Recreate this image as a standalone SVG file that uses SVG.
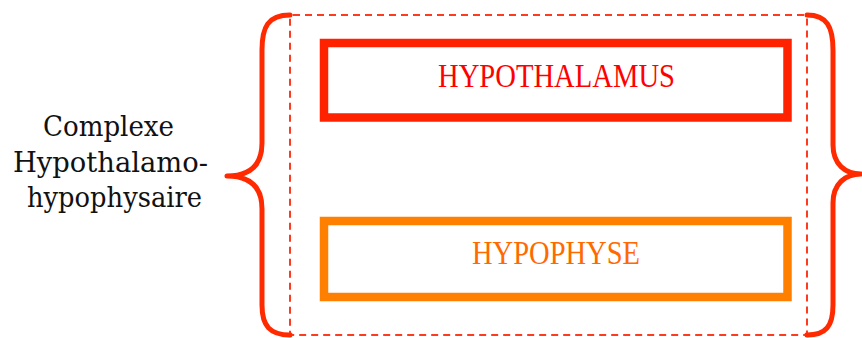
<svg xmlns="http://www.w3.org/2000/svg" width="862" height="338" viewBox="0 0 862 338">
<style>
.brace{fill:none;stroke:#ff2a00;stroke-width:5;stroke-linecap:round;stroke-linejoin:round}
.dash{fill:none;stroke:#ff3b1f;stroke-width:2;stroke-dasharray:7 5}
.box{fill:#ffffff;stroke-width:8.5}
.lbl{font-family:"DejaVu Serif","Liberation Serif",serif;font-size:28px;fill:#111111}
.btxt{font-family:"Liberation Serif","DejaVu Serif",serif;font-size:33px}
</style>
<rect width="862" height="338" fill="#ffffff"/>
<g id="label">
<text class="lbl" x="43" y="136" textLength="131" lengthAdjust="spacingAndGlyphs">Complexe</text>
<text class="lbl" x="13" y="172" textLength="195" lengthAdjust="spacingAndGlyphs">Hypothalamo-</text>
<text class="lbl" x="27" y="207" textLength="175" lengthAdjust="spacingAndGlyphs">hypophysaire</text>
</g>
<g id="frame">
<rect class="dash" x="290" y="15" width="517" height="320" rx="3"/>
<path class="brace" d="M290,15 C268,15 262,27 262,50 L262,143 C262,165 250,176 227,176 C250,176 262,187 262,209 L262,305 C262,326 270,335 290,335"/>
<path class="brace" d="M807,15 C827,15 833,27 833,50 L833,145 C833,164 845,174 861,174 C845,174 833,184 833,203 L833,305 C833,326 826,335 807,335"/>
</g>
<g id="hypothalamus">
<rect class="box" x="324" y="43" width="463.5" height="74.5" stroke="#ff2200"/>
<text class="btxt" x="438" y="87" fill="#ff0000" textLength="237" lengthAdjust="spacingAndGlyphs">HYPOTHALAMUS</text>
</g>
<g id="hypophyse">
<rect class="box" x="324" y="221" width="463.5" height="76" stroke="#ff7f00"/>
<text class="btxt" x="472" y="264" fill="#ff6a00" textLength="168" lengthAdjust="spacingAndGlyphs">HYPOPHYSE</text>
</g>
<g id="connectors"></g>
</svg>
